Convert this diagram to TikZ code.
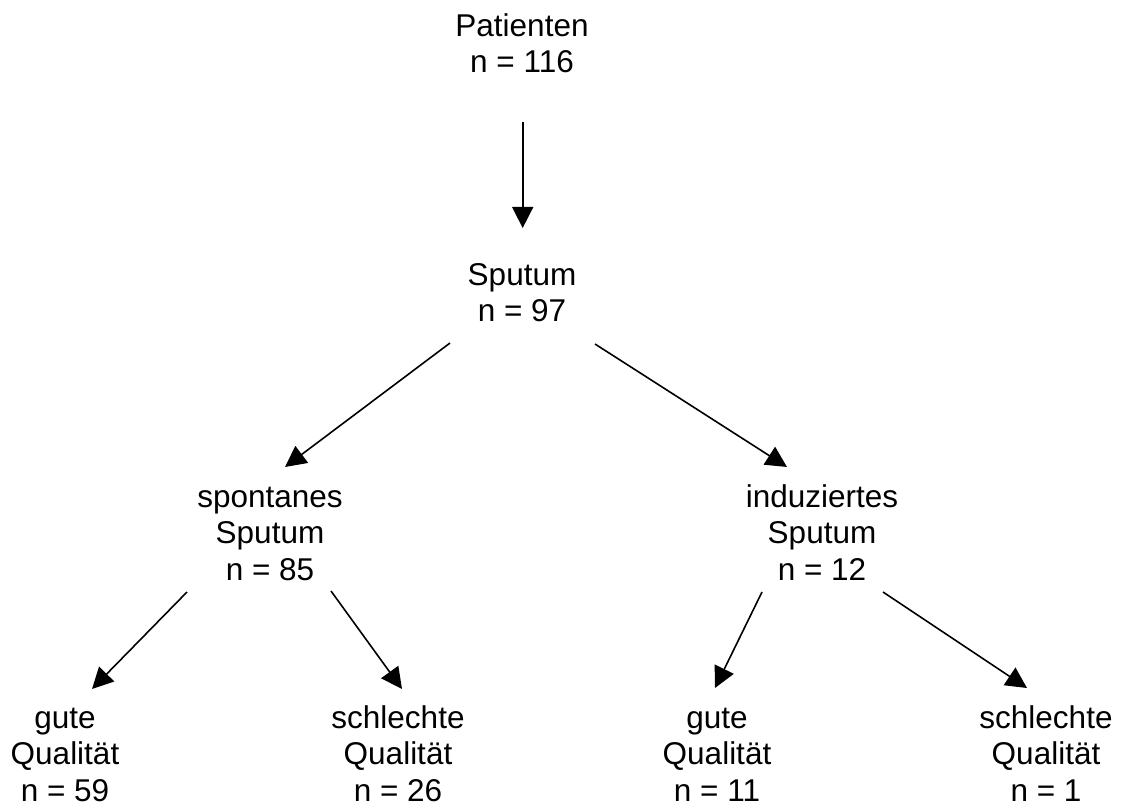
\documentclass[tikz,border=0pt]{standalone}
\usepackage{fontspec}
\setmainfont{Liberation Sans}
\usetikzlibrary{arrows.meta,calc}
\newcommand{\fstrut}{\rule{0pt}{26pt}}
\begin{document}
\begin{tikzpicture}[x=1pt,y=-1pt,
  lbl/.style={anchor=north,inner sep=0pt,align=center,
    font=\fontsize{31.5pt}{36.6pt}\selectfont},
  arr/.style={line width=1.6pt,-{Triangle[length=21pt,width=21pt]}}]
\path[use as bounding box,fill=white] (0,0) rectangle (1125,805);
\node[lbl] (pat)   at (522,10)  {\fstrut Patienten\\n = 116};
\node[lbl] (sput)  at (522,259) {\fstrut Sputum\\n = 97};
\node[lbl] (spont) at (270,481) {\fstrut spontanes\\Sputum\\n = 85};
\node[lbl] (ind)   at (822,481) {\fstrut induziertes\\Sputum\\n = 12};
\node[lbl] (g1)    at (65,702)  {\fstrut gute\\Qualität\\n = 59};
\node[lbl] (s1)    at (398,702) {\fstrut schlechte\\Qualität\\n = 26};
\node[lbl] (g2)    at (717,702) {\fstrut gute\\Qualität\\n = 11};
\node[lbl] (s2)    at (1046,702) {\fstrut schlechte\\Qualität\\n = 1};
\draw[arr] ($(pat.north)+(0.7,112)$) -- ($(sput.north)+(0.7,-31)$);
\draw[arr] ($(sput.north)+(-72,84)$) -- ($(spont.north)+(15,-14)$);
\draw[arr] ($(sput.north)+(73,85)$) -- ($(ind.north)+(-35,-14)$);
\draw[arr] ($(spont.north)+(-83,111)$) -- ($(g1.north)+(27,-13)$);
\draw[arr] ($(spont.north)+(61,110)$) -- ($(s1.north)+(4,-13)$);
\draw[arr] ($(ind.north)+(-60,111)$) -- ($(g2.north)+(-2,-14)$);
\draw[arr] ($(ind.north)+(61,111)$) -- ($(s2.north)+(-19,-14)$);
\end{tikzpicture}
\end{document}
